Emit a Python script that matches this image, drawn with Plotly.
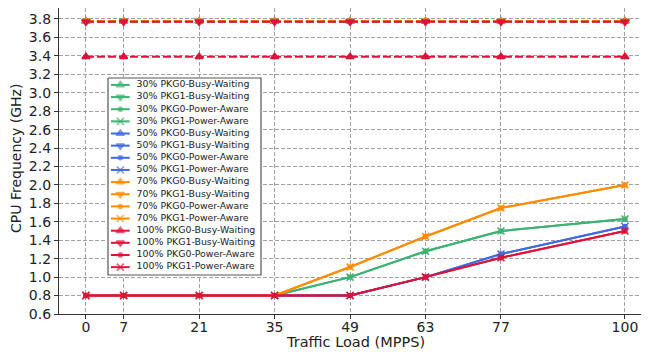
import plotly.graph_objects as go

# ---------------- data ----------------
traffic = [0, 7, 21, 35, 49, 63, 77, 100]
x_ticks = [0, 7, 21, 35, 49, 63, 77, 100]
y_ticks = [0.6, 0.8, 1.0, 1.2, 1.4, 1.6, 1.8, 2.0, 2.2, 2.4, 2.6, 2.8, 3.0, 3.2, 3.4, 3.6, 3.8]

loads = ["30%", "50%", "70%", "100%"]
modes = ["PKG0-Busy-Waiting", "PKG1-Busy-Waiting", "PKG0-Power-Aware", "PKG1-Power-Aware"]

busy_30_pkg0 = [3.775, 3.775, 3.775, 3.775, 3.775, 3.775, 3.775, 3.775]
busy_30_pkg1 = [3.775, 3.775, 3.775, 3.775, 3.775, 3.775, 3.775, 3.775]
pa_30_pkg0 = [0.8, 0.8, 0.8, 0.8, 1.0, 1.28, 1.5, 1.63]
pa_30_pkg1 = [0.8, 0.8, 0.8, 0.8, 1.0, 1.28, 1.5, 1.63]

busy_50_pkg0 = [3.775, 3.775, 3.775, 3.775, 3.775, 3.775, 3.775, 3.775]
busy_50_pkg1 = [3.775, 3.775, 3.775, 3.775, 3.775, 3.775, 3.775, 3.775]
pa_50_pkg0 = [0.8, 0.8, 0.8, 0.8, 0.8, 1.0, 1.25, 1.55]
pa_50_pkg1 = [0.8, 0.8, 0.8, 0.8, 0.8, 1.0, 1.25, 1.55]

busy_70_pkg0 = [3.775, 3.775, 3.775, 3.775, 3.775, 3.775, 3.775, 3.775]
busy_70_pkg1 = [3.775, 3.775, 3.775, 3.775, 3.775, 3.775, 3.775, 3.775]
pa_70_pkg0 = [0.8, 0.8, 0.8, 0.8, 1.11, 1.44, 1.75, 2.0]
pa_70_pkg1 = [0.8, 0.8, 0.8, 0.8, 1.11, 1.44, 1.75, 2.0]

busy_100_pkg0 = [3.39, 3.39, 3.39, 3.39, 3.39, 3.39, 3.39, 3.39]
busy_100_pkg1 = [3.77, 3.77, 3.77, 3.77, 3.77, 3.77, 3.77, 3.77]
pa_100_pkg0 = [0.8, 0.8, 0.8, 0.8, 0.8, 1.0, 1.21, 1.5]
pa_100_pkg1 = [0.8, 0.8, 0.8, 0.8, 0.8, 1.0, 1.21, 1.5]

series = [
    [busy_30_pkg0, busy_30_pkg1, pa_30_pkg0, pa_30_pkg1],
    [busy_50_pkg0, busy_50_pkg1, pa_50_pkg0, pa_50_pkg1],
    [busy_70_pkg0, busy_70_pkg1, pa_70_pkg0, pa_70_pkg1],
    [busy_100_pkg0, busy_100_pkg1, pa_100_pkg0, pa_100_pkg1],
]

# ---------------- styles ----------------
colors = ["#3CB371", "#4169E1", "#FF8C00", "#DC143C"]
symbols = ["triangle-up", "triangle-down", "circle", "x-thin"]
sizes = [7, 7, 4, 7]
dashes = ["8px,3px", "8px,3px", "solid", "solid"]
FONT = "DejaVu Sans"
TXT = "#222222"

# page body has an 8px margin: figure starts at (8, 8) of the window
OX, OY = 8, 8
W, H = 641, 344
ML, MR, MT, MB = 51, 0, 0, 38
PW, PH = W - ML - MR, H - MT - MB


def px(wx):  # window x -> paper x
    return (wx - OX - ML) / PW


def py(wy):  # window y -> paper y
    return (H - MB - (wy - OY)) / PH


fig = go.Figure()

for k, load in enumerate(loads):
    for j, mode in enumerate(modes):
        fig.add_trace(go.Scatter(
            x=traffic, y=series[k][j], mode="lines+markers",
            name=f"{load} {mode}", showlegend=False,
            line=dict(color=colors[k], width=2, dash=dashes[j]),
            marker=dict(symbol=symbols[j], size=sizes[j], color=colors[k],
                        line=dict(color=colors[k], width=1.5)),
            xaxis="x", yaxis="y", hoverinfo="skip",
        ))

# ---------------- custom legend (own small subplot) ----------------
LX0, LX1, LY0, LY1 = 107, 262, 77, 276  # legend box, window pixels
box_w, box_h = LX1 - LX0, LY1 - LY0
row0, row_step = 7.0, 12.27
h0, h1, hm, tx = 3, 22, 12.5, 29

fig.add_trace(go.Scatter(
    x=[0, box_w, box_w, 0, 0], y=[0, 0, box_h, box_h, 0], mode="lines",
    fill="toself", fillcolor="white", line=dict(color="#555555", width=1.2),
    xaxis="x2", yaxis="y2", showlegend=False, hoverinfo="skip"))

labels, label_y = [], []
idx = 0
for k, load in enumerate(loads):
    for j, mode in enumerate(modes):
        yy = row0 + row_step * idx
        fig.add_trace(go.Scatter(
            x=[h0, hm, h1], y=[yy, yy, yy], mode="lines+markers",
            line=dict(color=colors[k], width=2),
            marker=dict(symbol=symbols[j], size=[0, sizes[j], 0], color=colors[k],
                        line=dict(color=colors[k], width=1.5)),
            xaxis="x2", yaxis="y2", showlegend=False, hoverinfo="skip"))
        labels.append(f"{load} {mode}")
        label_y.append(yy)
        idx += 1

fig.add_trace(go.Scatter(
    x=[tx] * len(labels), y=label_y, mode="text", text=labels,
    textposition="middle right", textfont=dict(family=FONT, size=9.4, color=TXT),
    xaxis="x2", yaxis="y2", showlegend=False, hoverinfo="skip", cliponaxis=False))

axis_common = dict(
    ticks="outside", ticklen=4, tickwidth=1, tickcolor="#333333",
    showline=True, linecolor="#333333", linewidth=1.2,
    showgrid=True, gridcolor="#a0a0a0", griddash="4px,2px", gridwidth=1,
    zeroline=False, automargin=False,
)

fig.update_layout(
    width=W, height=H,
    margin=dict(l=ML, r=MR, t=MT, b=MB, autoexpand=False),
    paper_bgcolor="white", plot_bgcolor="white",
    font=dict(family=FONT, color=TXT),
    showlegend=False,
    xaxis=dict(
        domain=[0, 1], range=[-5, -5 + PW / 5.39], tickmode="array", tickvals=x_ticks,
        ticktext=[str(v) for v in x_ticks], tickfont=dict(size=14, color=TXT),
        ticklabelstandoff=-4, mirror=True, **axis_common,
    ),
    yaxis=dict(
        domain=[0, 1], range=[0.6, 0.6 + PH / 92.2], tickmode="array", tickvals=y_ticks,
        ticktext=[f"{v:.1f}" for v in y_ticks], tickfont=dict(size=14, color=TXT),
        mirror=False, **axis_common,
    ),
    xaxis2=dict(
        domain=[px(LX0), px(LX1)], range=[-1, box_w + 1],
        anchor="y2", visible=False, fixedrange=True,
    ),
    yaxis2=dict(
        domain=[py(LY1), py(LY0)], range=[box_h + 1, -1],
        anchor="x2", visible=False, fixedrange=True,
    ),
    annotations=[
        dict(text="Traffic Load (MPPS)", xref="paper", yref="paper",
             x=px(356), y=py(342), xanchor="center", yanchor="middle",
             showarrow=False, font=dict(size=14.5, color=TXT)),
        dict(text="CPU Frequency (GHz)", xref="paper", yref="paper",
             x=px(16), y=py(159), xanchor="center", yanchor="middle",
             textangle=-90, showarrow=False, font=dict(size=14, color=TXT)),
    ],
)

fig.write_html("out.html")
